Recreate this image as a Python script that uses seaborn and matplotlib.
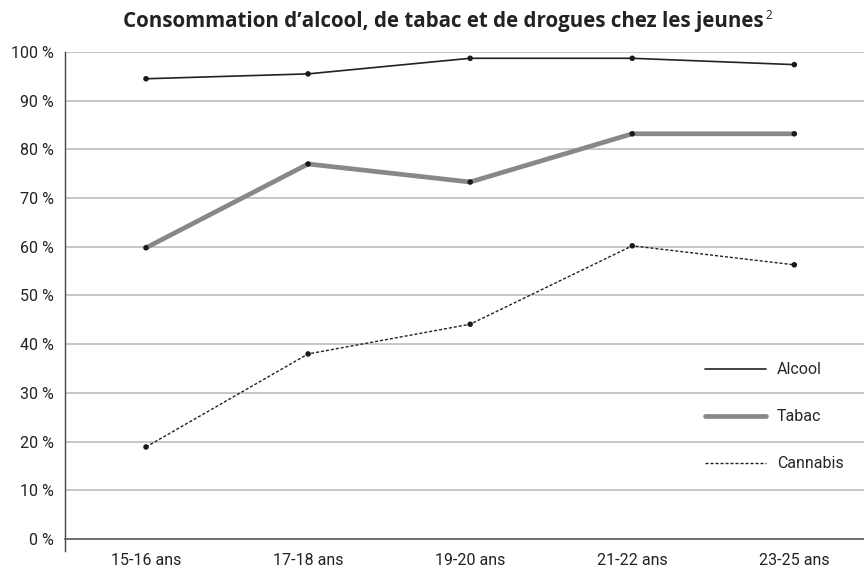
import numpy as np
import pandas as pd
import matplotlib.pyplot as plt
import seaborn as sns
from matplotlib.lines import Line2D

sns.set_style("white")
plt.rcParams['font.family'] = ['Roboto', 'DejaVu Sans']

# data
ages = ["15-16 ans", "17-18 ans", "19-20 ans", "21-22 ans", "23-25 ans"]
alcool = [94.5, 95.5, 98.7, 98.7, 97.4]
tabac = [59.8, 77.0, 73.3, 83.2, 83.2]
cannabis = [18.9, 38.0, 44.1, 60.2, 56.3]
yticks = [0, 10, 20, 30, 40, 50, 60, 70, 80, 90, 100]

pos = np.arange(len(ages))
df = pd.DataFrame({"pos": pos, "Alcool": alcool, "Tabac": tabac, "Cannabis": cannabis})

fig = plt.figure(figsize=(8.64, 5.71), dpi=100)
ax = fig.add_axes([0.0752, 0.056, 0.9248, 0.853])

styles = {
    "Alcool": dict(color="#222222", linewidth=1.2, linestyle="-"),
    "Tabac": dict(color="#888888", linewidth=3.4, linestyle="-"),
    "Cannabis": dict(color="#222222", linewidth=1.0, linestyle=(0, (2.2, 1.4))),
}

for name, st in styles.items():
    sns.lineplot(data=df, x="pos", y=name, ax=ax, zorder=3, **st)
    sns.scatterplot(data=df, x="pos", y=name, ax=ax, color="#1a1a1a", s=16,
                    edgecolor="none", zorder=4)

ax.set_xlim(-0.5, 4.43)
ax.set_ylim(0, 100)
ax.set_yticks(yticks)
ax.set_yticklabels([f"{v} %" for v in yticks], fontsize=11.5, color="#222222")
for v in yticks[1:]:
    ax.axhline(v, color="#c6c6c6", linewidth=1.4, zorder=1)

ax.set_xticks(pos)
ax.set_xticklabels(ages, fontsize=11.5, color="#222222")
ax.set_xticks(np.arange(-0.5, 4.5, 1), minor=True)
ax.tick_params(axis="x", which="major", length=0, pad=10)
ax.tick_params(axis="x", which="minor", length=8, width=0.9, color="#555555", direction="out")
ax.tick_params(axis="y", length=0, pad=8)
ax.set_xlabel("")
ax.set_ylabel("")

for s in ["top", "right"]:
    ax.spines[s].set_visible(False)
ax.spines["left"].set_color("#444444")
ax.spines["left"].set_linewidth(1.0)
ax.spines["left"].set_bounds(-2.4, 100)
ax.spines["bottom"].set_color("#555555")
ax.spines["bottom"].set_linewidth(1.2)

handles = [Line2D([], [], **st) for st in styles.values()]
ax.legend(handles, list(styles.keys()), loc="upper left", bbox_to_anchor=(0.783, 0.392),
          frameon=False, fontsize=11.5, labelspacing=2.0, handlelength=3.8,
          handletextpad=0.7)

title = fig.text(0.513, 0.962, "Consommation d\u2019alcool, de tabac et de drogues chez les jeunes",
                 ha="center", va="center", fontsize=14.8, fontweight="bold", color="#222222",
                 family=["Open Sans", "DejaVu Sans"])
fig.canvas.draw()
bb = title.get_window_extent().transformed(fig.transFigure.inverted())
fig.text(bb.x1 + 0.002, 0.972, "2", ha="left", va="center", fontsize=8.5, color="#222222",
         family=["Open Sans", "DejaVu Sans"])

fig.savefig("out.png", dpi=100)
